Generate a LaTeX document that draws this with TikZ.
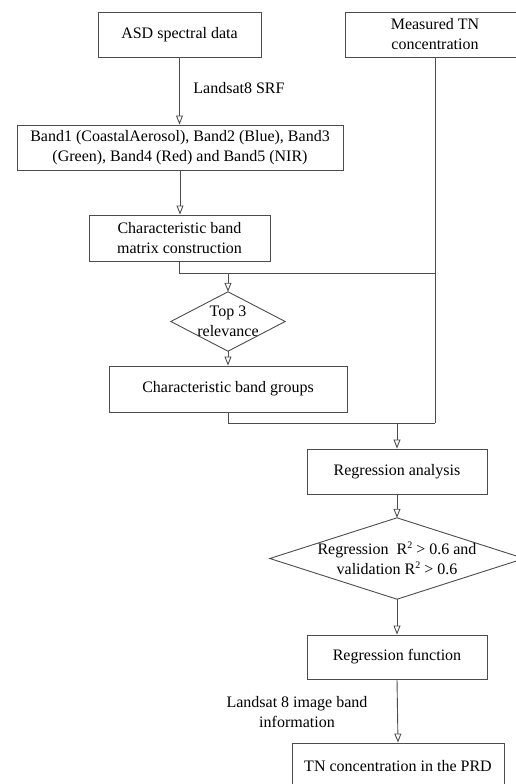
\documentclass[tikz,border=0pt]{standalone}
\usepackage{fontspec}
\setmainfont{Liberation Serif}
\usetikzlibrary{arrows.meta}
\newcommand{\sqsup}{\raisebox{0.75ex}{\fontsize{10}{10}\selectfont 2}}
\begin{document}
\begin{tikzpicture}[x=1pt,y=-1pt,
  every node/.style={font=\fontsize{16}{20}\selectfont, text=black},
  box/.style={draw=black!70, line width=0.9pt, align=center, inner sep=0pt, minimum width=#1},
  dia/.style={align=center, inner sep=0pt, minimum width=#1},
  ln/.style={draw=black!70, line width=0.9pt},
  arr/.style={ln, -{Triangle[open, length=9pt, width=7pt]}},
  lbl/.style={align=center, inner sep=0pt}]
\useasboundingbox (0,0) rectangle (516,784);
\clip (0,0) rectangle (516,784);
\node[box=163, minimum height=45] (asd) at (179.5,34.5) {ASD spectral data};
\node[box=180, minimum height=45] (tn) at (435,34.5) {Measured TN\\concentration};
\node[box=326, minimum height=45] (band) at (180,147.5) {Band1 (CoastalAerosol), Band2 (Blue), Band3\\(Green), Band4 (Red) and Band5 (NIR)};
\node[box=181, minimum height=46] (cbm) at (179.5,238) {Characteristic band\\matrix construction};
\node[dia=114, minimum height=59] (top3) at (228,321.5) {Top 3\\relevance};
\draw[ln] (top3.north) -- (top3.east) -- (top3.south) -- (top3.west) -- cycle;
\node[box=238, minimum height=46] (cbg) at (228,389) {Characteristic band groups};
\node[box=180, minimum height=45] (ra) at (397,471.5) {Regression analysis};
\node[dia=254, minimum height=81] (d2) at (397,558.5) {Regression~~R\sqsup{} > 0.6 and\\validation R\sqsup{} > 0.6};
\draw[ln] (d2.north) -- (d2.east) -- (d2.south) -- (d2.west) -- cycle;
\node[box=180, minimum height=44] (rf) at (397,657) {Regression function};
\node[box=212, minimum height=46] (prd) at (398,766) {TN concentration in the PRD};
\node[lbl] (l1) at (239,88) {Landsat8 SRF};
\node[lbl] (l2) at (297,712) {Landsat 8 image band\\information};
\coordinate (m1) at (435,273);
\coordinate (m2) at (435,423);
\draw[arr] (asd.south) -- (asd.south |- band.north);
\draw[arr] (band.south) -- (band.south |- cbm.north);
\draw[ln] (tn.south) -- (m2);
\draw[ln] (cbm.south) |- (m1);
\draw[arr] (top3.north |- m1) -- (top3.north);
\draw[arr] (top3.south) -- (cbg.north);
\draw[ln] (cbg.south) |- (m2);
\draw[arr] (ra.north |- m2) -- (ra.north);
\draw[arr] (ra.south) -- (d2.north);
\draw[arr] (d2.south) -- (rf.north);
\draw[arr] (rf.south) -- (prd.north);
\end{tikzpicture}
\end{document}
